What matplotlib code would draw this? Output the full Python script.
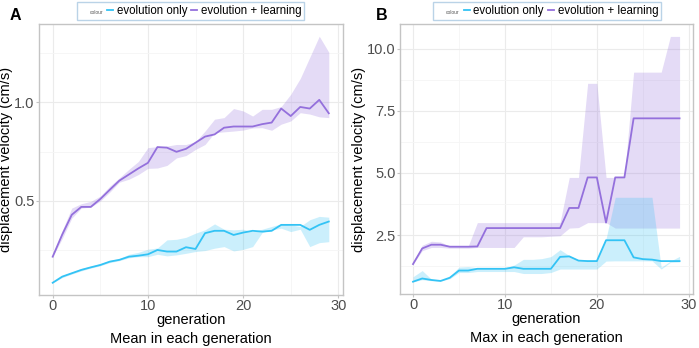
import matplotlib
matplotlib.use('Agg')
import matplotlib.pyplot as plt
from matplotlib.lines import Line2D
import numpy as np

plt.rcParams['font.family'] = ['Liberation Sans', 'DejaVu Sans']

generations = list(range(30))

# Panel A: mean in each generation
mean_evo = [0.086, 0.117, 0.134, 0.151, 0.164, 0.176, 0.193, 0.202, 0.218, 0.223,
            0.230, 0.252, 0.244, 0.244, 0.266, 0.257, 0.337, 0.349, 0.349, 0.328,
            0.340, 0.349, 0.345, 0.349, 0.379, 0.379, 0.379, 0.354, 0.379, 0.396]
mean_evo_lo = [0.086, 0.112, 0.130, 0.146, 0.160, 0.172, 0.188, 0.198, 0.212, 0.218,
               0.218, 0.230, 0.222, 0.227, 0.235, 0.244, 0.249, 0.261, 0.269, 0.247,
               0.255, 0.269, 0.340, 0.354, 0.362, 0.345, 0.357, 0.269, 0.289, 0.294]
mean_evo_hi = [0.086, 0.122, 0.140, 0.158, 0.170, 0.183, 0.199, 0.208, 0.230, 0.240,
               0.256, 0.262, 0.303, 0.306, 0.316, 0.337, 0.354, 0.384, 0.357, 0.354,
               0.357, 0.345, 0.357, 0.371, 0.384, 0.379, 0.371, 0.405, 0.422, 0.418]

mean_learn = [0.218, 0.330, 0.430, 0.470, 0.470, 0.510, 0.557, 0.603, 0.634, 0.665,
              0.693, 0.773, 0.770, 0.749, 0.764, 0.795, 0.826, 0.837, 0.871, 0.877,
              0.877, 0.877, 0.889, 0.897, 0.968, 0.930, 0.976, 0.968, 1.012, 0.944]
mean_learn_lo = [0.218, 0.310, 0.413, 0.464, 0.469, 0.500, 0.545, 0.595, 0.610, 0.634,
                 0.665, 0.667, 0.680, 0.718, 0.730, 0.761, 0.786, 0.846, 0.850, 0.854,
                 0.859, 0.870, 0.871, 0.858, 0.889, 0.905, 0.947, 0.940, 0.926, 0.922]
mean_learn_hi = [0.218, 0.350, 0.464, 0.486, 0.498, 0.525, 0.575, 0.617, 0.660, 0.700,
                 0.770, 0.775, 0.778, 0.786, 0.786, 0.800, 0.854, 0.914, 0.922, 0.968,
                 0.956, 0.930, 0.964, 0.964, 0.978, 1.040, 1.120, 1.227, 1.334, 1.253]

# Panel B: max in each generation
max_evo = [0.62, 0.75, 0.69, 0.65, 0.78, 1.07, 1.07, 1.14, 1.14, 1.14,
           1.14, 1.20, 1.14, 1.14, 1.14, 1.14, 1.62, 1.64, 1.47, 1.45,
           1.45, 2.29, 2.29, 2.29, 1.60, 1.53, 1.51, 1.45, 1.45, 1.45]
max_evo_lo = [0.62, 0.70, 0.66, 0.65, 0.74, 0.99, 0.99, 1.03, 1.03, 1.03,
              1.03, 1.03, 0.95, 0.95, 0.95, 0.99, 1.13, 1.13, 1.13, 1.13,
              1.13, 1.45, 1.46, 1.46, 1.46, 1.46, 1.46, 1.13, 1.40, 1.42]
max_evo_hi = [0.82, 1.07, 0.72, 0.65, 0.83, 1.21, 1.23, 1.18, 1.18, 1.18,
              1.18, 1.29, 1.52, 1.52, 1.55, 1.63, 1.91, 1.67, 1.51, 1.51,
              1.51, 2.35, 4.02, 4.02, 4.02, 4.02, 4.02, 1.20, 1.45, 1.64]

max_learn = [1.33, 1.96, 2.11, 2.11, 2.03, 2.03, 2.03, 2.04, 2.78, 2.78,
             2.78, 2.78, 2.78, 2.78, 2.78, 2.78, 2.78, 3.59, 3.59, 4.82,
             4.82, 3.00, 4.82, 4.82, 7.20, 7.20, 7.20, 7.20, 7.20, 7.20]
max_learn_lo = [1.33, 1.87, 2.00, 2.00, 1.97, 1.97, 1.97, 2.00, 2.00, 2.00,
                2.00, 2.00, 2.43, 2.43, 2.43, 2.45, 2.47, 2.78, 2.80, 3.00,
                3.00, 3.00, 2.78, 2.78, 2.78, 2.78, 2.78, 2.78, 2.78, 2.78]
max_learn_hi = [1.33, 2.09, 2.25, 2.22, 2.05, 2.05, 2.05, 3.00, 3.00, 3.00,
                3.00, 3.00, 3.00, 3.00, 3.00, 3.00, 3.01, 4.82, 4.82, 8.61,
                8.61, 4.82, 4.82, 4.82, 9.06, 9.06, 9.06, 9.06, 10.50, 10.50]

series_labels = ['evolution only', 'evolution + learning']
colors = ['#33c3f5', '#9470dc']

x_ticks = [0, 10, 20, 30]
x_minor = [5, 15, 25]


def style_axes(ax, ylim, yticks, yminor, xlabel_extra):
    ax.set_xlim(-1.45, 30.45)
    ax.set_ylim(*ylim)
    ax.set_xticks(x_ticks)
    ax.set_xticks(x_minor, minor=True)
    ax.set_yticks(yticks)
    ax.set_yticks(yminor, minor=True)
    ax.set_yticklabels([f'{t:.1f}' for t in yticks])
    ax.grid(True, which='major', color='#ebebeb', linewidth=0.8)
    ax.grid(True, which='minor', color='#f5f5f5', linewidth=0.6)
    ax.set_axisbelow(True)
    for s in ax.spines.values():
        s.set_color('#c4c4c4')
        s.set_linewidth(1.0)
    ax.tick_params(which='major', length=2, color='#c4c4c4', labelsize=10.5,
                   labelcolor='#4d4d4d', pad=1)
    ax.tick_params(which='minor', length=0)
    ax.set_xlabel('generation\n' + xlabel_extra, fontsize=10.5, labelpad=0,
                  linespacing=1.45)
    ax.set_ylabel('displacement velocity (cm/s)', fontsize=10.5, labelpad=1)


def draw_panel(ax, evo, evo_lo, evo_hi, learn, learn_lo, learn_hi):
    ax.fill_between(generations, learn_lo, learn_hi, color=colors[1],
                    alpha=0.25, linewidth=0)
    ax.fill_between(generations, evo_lo, evo_hi, color=colors[0],
                    alpha=0.25, linewidth=0)
    ax.plot(generations, evo, color=colors[0], linewidth=1.3)
    ax.plot(generations, learn, color=colors[1], linewidth=1.3)


def add_legend(fig, cx):
    handles = [Line2D([], [], color='none'),
               Line2D([], [], color=colors[0], linewidth=1.3),
               Line2D([], [], color=colors[1], linewidth=1.3)]
    labels = ['colour'] + series_labels
    leg = fig.legend(handles, labels, loc='center', bbox_to_anchor=(cx, 0.969),
                     ncol=3, fontsize=8.3, handlelength=0.55, handletextpad=0.3,
                     columnspacing=0.35, borderpad=0.25, frameon=True,
                     fancybox=False, borderaxespad=0)
    leg.get_frame().set_edgecolor('#a9c8e2')
    leg.get_frame().set_linewidth(1.0)
    t = leg.get_texts()[0]
    t.set_fontsize(3.5)
    t.set_color('#555555')
    return leg


fig = plt.figure(figsize=(6.99, 3.48), dpi=100)
ax1 = fig.add_axes([38.9 / 699, 1 - 295 / 348, 303.7 / 699, 271 / 348])
ax2 = fig.add_axes([399.7 / 699, 1 - 294 / 348, 293.2 / 699, 270 / 348])

draw_panel(ax1, mean_evo, mean_evo_lo, mean_evo_hi,
           mean_learn, mean_learn_lo, mean_learn_hi)
style_axes(ax1, (0.024, 1.396), [0.5, 1.0], [0.25, 0.75, 1.25],
           'Mean in each generation')

draw_panel(ax2, max_evo, max_evo_lo, max_evo_hi,
           max_learn, max_learn_lo, max_learn_hi)
style_axes(ax2, (0.125, 11.0), [2.5, 5.0, 7.5, 10.0], [1.25, 3.75, 6.25, 8.75],
           'Max in each generation')

add_legend(fig, 190.5 / 699)
add_legend(fig, 547.4 / 699)

fig.text(10 / 699, 1 - 16 / 348, 'A', fontsize=11.5, fontweight='bold', va='center')
fig.text(376 / 699, 1 - 16 / 348, 'B', fontsize=11.5, fontweight='bold', va='center')

fig.savefig('out.png', dpi=100)
